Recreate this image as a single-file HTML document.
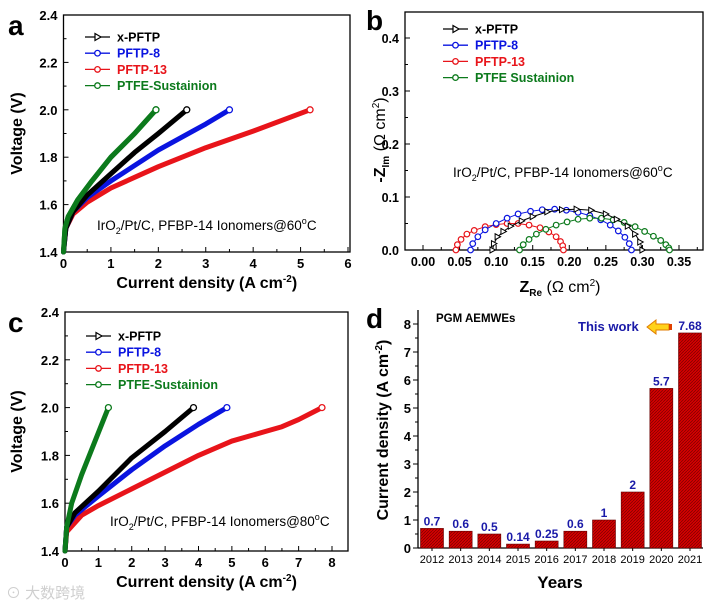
<!DOCTYPE html>
<html><head><meta charset="utf-8">
<style>
html,body{margin:0;padding:0;background:#fff;}
svg{display:block;font-family:"Liberation Sans",Arial,sans-serif;}
</style></head>
<body>
<svg id="fig" width="720" height="608" viewBox="0 0 720 608" xmlns="http://www.w3.org/2000/svg"></svg>
<script>
// ---------- DATA ----------
// Panel a (60C polarization)
const aGreenJ=[0,0.03,0.1,0.3,0.6,1.0,1.5,1.95];
const aGreenV=[1.4,1.5,1.55,1.62,1.7,1.8,1.9,2.0];
const aBlackJ=[0,0.05,0.2,0.5,1.0,1.5,2.0,2.6];
const aBlackV=[1.4,1.5,1.57,1.64,1.73,1.82,1.9,2.0];
const aBlueJ=[0,0.05,0.2,0.5,1,2,3,3.5];
const aBlueV=[1.4,1.5,1.57,1.63,1.7,1.83,1.94,2.0];
const aRedJ=[0,0.05,0.2,0.5,1,2,3,4,5.2];
const aRedV=[1.4,1.5,1.56,1.61,1.67,1.76,1.84,1.91,2.0];
// Panel c (80C polarization)
const cGreenJ=[0,0.05,0.2,0.5,0.9,1.3];
const cGreenV=[1.4,1.5,1.6,1.72,1.86,2.0];
const cBlackJ=[0,0.05,0.3,1,2,3,3.85];
const cBlackV=[1.4,1.5,1.56,1.65,1.79,1.9,2.0];
const cBlueJ=[0,0.05,0.3,1,2,3,4,4.85];
const cBlueV=[1.4,1.5,1.55,1.63,1.74,1.84,1.93,2.0];
const cRedJ=[0,0.05,0.5,1,2,3,4,5,6,6.5,7,7.7];
const cRedV=[1.4,1.48,1.55,1.59,1.66,1.73,1.8,1.86,1.9,1.92,1.95,2.0];
// Panel b (Nyquist)
const bRedRe=[0.045,0.047,0.052,0.06,0.07,0.085,0.1,0.115,0.13,0.145,0.16,0.172,0.182,0.188,0.191,0.192];
const bRedIm=[0,0.01,0.02,0.03,0.037,0.044,0.048,0.05,0.05,0.047,0.042,0.034,0.025,0.016,0.008,0];
const bBlueRe=[0.065,0.068,0.075,0.085,0.1,0.115,0.13,0.147,0.163,0.18,0.196,0.212,0.228,0.243,0.256,0.267,0.276,0.282,0.285];
const bBlueIm=[0,0.012,0.025,0.038,0.05,0.06,0.068,0.073,0.076,0.077,0.075,0.071,0.065,0.057,0.047,0.036,0.024,0.012,0];
const bBlackRe=[0.095,0.097,0.102,0.11,0.12,0.135,0.15,0.17,0.19,0.21,0.23,0.25,0.265,0.28,0.29,0.297,0.3];
const bBlackIm=[0,0.012,0.025,0.035,0.045,0.055,0.063,0.072,0.076,0.077,0.075,0.068,0.058,0.045,0.03,0.015,0];
const bGreenRe=[0.132,0.137,0.145,0.155,0.168,0.182,0.197,0.212,0.228,0.244,0.26,0.275,0.29,0.303,0.315,0.325,0.332,0.336,0.337];
const bGreenIm=[0,0.01,0.02,0.03,0.039,0.047,0.053,0.058,0.06,0.06,0.057,0.052,0.044,0.035,0.026,0.018,0.01,0.004,0];
// Panel d (bars)
const dYears=["2012","2013","2014","2015","2016","2017","2018","2019","2020","2021"];
const dValues=[0.7,0.6,0.5,0.14,0.25,0.6,1,2,5.7,7.68];
const dLabels=["0.7","0.6","0.5","0.14","0.25","0.6","1","2","5.7","7.68"];
// tick labels
const aXTicks=["0","1","2","3","4","5","6"];
const vYTicks=["1.4","1.6","1.8","2.0","2.2","2.4"];
const cXTicks=["0","1","2","3","4","5","6","7","8"];
const bXTicks=["0.00","0.05","0.10","0.15","0.20","0.25","0.30","0.35"];
const bYTicks=["0.0","0.1","0.2","0.3","0.4"];
const dYTicks=["0","1","2","3","4","5","6","7","8"];

const NS="http://www.w3.org/2000/svg";
const svg=document.getElementById('fig');
function mk(tag,attrs,parent){const e=document.createElementNS(NS,tag);for(const k in attrs)e.setAttribute(k,attrs[k]);(parent||svg).appendChild(e);return e;}
function txt(s,x,y,o,parent){const t=mk('text',Object.assign({x:x,y:y,'font-size':13,'font-weight':'bold',fill:'#000'},o||{}),parent);t.textContent=s;return t;}
function lin(d0,d1,r0,r1){return v=>r0+(v-d0)/(d1-d0)*(r1-r0);}

const COL={black:'#000',blue:'#0a14e0',red:'#e8141a',green:'#0c7a1c'};

// ---------- generic polarization panel ----------
function polPanel(g,o){
  const X=lin(0,o.xmax,o.x0,o.x1), Y=lin(1.4,2.4,o.y0,o.y1);
  const fr=mk('rect',{x:o.x0,y:o.y1,width:o.fr-o.x0,height:o.y0-o.y1,fill:'none',stroke:'#000','stroke-width':1.3},g);
  
  // y ticks
  for(let i=0;i<=10;i++){const v=1.4+i*0.1,y=Y(v),L=i%2?3:5;
    mk('line',{x1:o.x0,x2:o.x0+L,y1:y,y2:y,stroke:'#000','stroke-width':1},g);}
  vYTicks.forEach((s,i)=>{const t=txt(s,o.x0-6,Y(+s)+5,{'text-anchor':'end'},g);
    });
  for(let i=0;i<=o.xmax*2;i++){const x=X(i/2),L=i%2?3:5;
    mk('line',{x1:x,x2:x,y1:o.y0,y2:o.y0-L,stroke:'#000','stroke-width':1},g);}
  o.xt.forEach(s=>{const t=txt(s,X(+s),o.y0+16,{'text-anchor':'middle'},g);
    });
  const xt=txt('',(o.x0+o.fr)/2,o.y0+36,{'text-anchor':'middle','font-size':16},g);
  xt.innerHTML='Current density (A cm<tspan dy="-6" font-size="10">-2</tspan><tspan dy="6">)</tspan>';
  
  const yt=txt('Voltage (V)',0,0,{'text-anchor':'middle','font-size':16,transform:`translate(22,${(o.y0+o.y1)/2}) rotate(-90)`},g);
  
  o.series.forEach(s=>{
    const pts=s.j.map((v,i)=>X(v)+','+Y(s.v[i])).join(' ');
    const p=mk('polyline',{points:pts,fill:'none',stroke:COL[s.c],'stroke-width':5,'stroke-linejoin':'round','stroke-linecap':'round'},g);
    
    const m=mk('circle',{cx:X(s.j[s.j.length-1]),cy:Y(2.0),r:3,fill:'#fff',stroke:COL[s.c],'stroke-width':1.3},g);
    
  });
  legend(g,o.lx,o.ly,['x-PFTP','PFTP-8','PFTP-13','PTFE-Sustainion']);
  const an=txt('',o.ax,o.ay,{'font-weight':'normal','font-size':13.5},g);
  an.innerHTML='IrO<tspan dy="4" font-size="9">2</tspan><tspan dy="-4">/Pt/C, PFBP-14 Ionomers@'+o.temp+'</tspan><tspan dy="-6" font-size="9">o</tspan><tspan dy="6">C</tspan>';
  
  const pl=txt(o.letter,8,o.y1+20,{'font-size':28},g);
  
}
function legend(g,lx,ly,names){
  const cs=['black','blue','red','green'];
  names.forEach((n,i)=>{const y=ly+i*16.2;
    const le=mk('g',{},g);
    mk('line',{x1:lx,x2:lx+25,y1:y,y2:y,stroke:COL[cs[i]],'stroke-width':1.3},le);
    if(i==0) mk('path',{d:`M${lx+10},${y-3.5} L${lx+16},${y} L${lx+10},${y+3.5}Z`,fill:'#fff',stroke:'#000','stroke-width':1.2},le);
    else mk('circle',{cx:lx+12.5,cy:y,r:2.8,fill:'#fff',stroke:COL[cs[i]],'stroke-width':1.3},le);
    txt(n,lx+32,y+4.5,{fill:COL[cs[i]],'font-size':12.5},le);
  });
}

const ga=mk('g',{});
polPanel(ga,{x0:63.5,x1:348,fr:350,xmax:6,y0:252,y1:15,xt:aXTicks,lx:85,ly:37,ax:97,ay:230,temp:'60',letter:'a',
 series:[{n:'ptfe',c:'green',j:aGreenJ,v:aGreenV},{n:'red',c:'red',j:aRedJ,v:aRedV},{n:'blue',c:'blue',j:aBlueJ,v:aBlueV},{n:'black',c:'black',j:aBlackJ,v:aBlackV},{n:'green-top',c:'green',j:aGreenJ,v:aGreenV}]});
const gc=mk('g',{});
polPanel(gc,{x0:65,x1:332,fr:348,xmax:8,y0:551,y1:312,xt:cXTicks,lx:86,ly:336,ax:110,ay:526,temp:'80',letter:'c',
 series:[{n:'red',c:'red',j:cRedJ,v:cRedV},{n:'blue',c:'blue',j:cBlueJ,v:cBlueV},{n:'black',c:'black',j:cBlackJ,v:cBlackV},{n:'ptfe',c:'green',j:cGreenJ,v:cGreenV}]});

// ---------- panel b ----------
(function(){
  const g=mk('g',{});
  const X=lin(0,0.35,423,679),Y=lin(0,0.4,250,38);
  const fr=mk('rect',{x:405,y:12,width:298,height:238,fill:'none',stroke:'#000','stroke-width':1.3},g);
  
  for(let i=0;i<=15;i++){const x=X(i*0.025),L=i%2?3:5;mk('line',{x1:x,x2:x,y1:250,y2:250-L,stroke:'#000'},g);}
  for(let i=0;i<=8;i++){const y=Y(i*0.05),L=i%2?3:5;mk('line',{x1:405,x2:405+L,y1:y,y2:y,stroke:'#000'},g);}
  bXTicks.forEach(s=>{const t=txt(s,X(+s),266,{'text-anchor':'middle','font-size':12.5},g);});
  bYTicks.forEach(s=>{const t=txt(s,399,Y(+s)+5,{'text-anchor':'end','font-size':12.5},g);});
  const xt=txt('',560,292,{'text-anchor':'middle','font-size':16},g);
  xt.innerHTML='Z<tspan dy="4" font-size="10">Re</tspan><tspan dy="-4" font-weight="normal"> (Ω cm</tspan><tspan dy="-6" font-size="10" font-weight="normal">2</tspan><tspan dy="6" font-weight="normal">)</tspan>';
  
  const yt=txt('',0,0,{'text-anchor':'middle','font-size':16,transform:'translate(385,140) rotate(-90)'},g);
  yt.innerHTML='-Z<tspan dy="4" font-size="10">Im</tspan><tspan dy="-4" font-weight="normal"> (Ω cm</tspan><tspan dy="-6" font-size="10" font-weight="normal">2</tspan><tspan dy="6" font-weight="normal">)</tspan>';
  
  const ser=[['red',bRedRe,bRedIm],['blue',bBlueRe,bBlueIm],['green',bGreenRe,bGreenIm],['black',bBlackRe,bBlackIm]];
  ser.forEach(s=>{
    const p=mk('polyline',{points:s[1].map((v,i)=>X(v)+','+Y(s[2][i])).join(' '),fill:'none',stroke:COL[s[0]],'stroke-width':1},g);
    
    s[1].forEach((v,i)=>{const x=X(v),y=Y(s[2][i]);let m;
      if(s[0]=='black') m=mk('path',{d:`M${x-2.5},${y-3} L${x+3},${y} L${x-2.5},${y+3}Z`,fill:'#fff',stroke:'#000','stroke-width':1},g);
      else m=mk('circle',{cx:x,cy:y,r:2.8,fill:'#fff',stroke:COL[s[0]],'stroke-width':1.2},g);
      });
  });
  legend(g,443,29,['x-PFTP','PFTP-8','PFTP-13','PTFE Sustainion']);
  const an=txt('',453,177,{'font-weight':'normal','font-size':13.5},g);
  an.innerHTML='IrO<tspan dy="4" font-size="9">2</tspan><tspan dy="-4">/Pt/C, PFBP-14 Ionomers@60</tspan><tspan dy="-6" font-size="9">o</tspan><tspan dy="6">C</tspan>';
  
  const pl=txt('b',366,30,{'font-size':28},g);
})();

// ---------- panel d ----------
(function(){
  const g=mk('g',{});
  const defs=mk('defs',{},g);
  const pat=mk('pattern',{id:'hatch',width:3,height:3,patternUnits:'userSpaceOnUse'},defs);
  mk('rect',{width:3,height:3,fill:'#d40000'},pat);
  mk('path',{d:'M0,3 L3,0',stroke:'#7a0000','stroke-width':0.7},pat);
  const X=lin(0,9,432,690),Y=lin(0,8,548,324);
  mk('line',{x1:418,x2:418,y1:310,y2:548,stroke:'#000','stroke-width':1.3},g);
  mk('line',{x1:418,x2:703,y1:548,y2:548,stroke:'#000','stroke-width':1.3},g);
  for(let i=0;i<=16;i++){const y=Y(i/2),L=i%2?3:5;mk('line',{x1:418,x2:418-L,y1:y,y2:y,stroke:'#000'},g);}
  dYTicks.forEach(s=>{const t=txt(s,411,Y(+s)+5,{'text-anchor':'end','font-size':13},g);});
  dYears.forEach((s,i)=>{const t=txt(s,X(i),563,{'text-anchor':'middle','font-size':11,'font-weight':'normal'},g);
    mk('line',{x1:X(i),x2:X(i),y1:548,y2:551,stroke:'#000'},g);});
  dValues.forEach((v,i)=>{
    const b=mk('rect',{x:X(i)-11.5,y:Y(v),width:23,height:548-Y(v),fill:'url(#hatch)',stroke:'#600','stroke-width':0.6},g);
    
    const t=txt(dLabels[i],X(i),Y(v)-3,{'text-anchor':'middle','font-size':12,fill:'#1a1aa8'},g);
    
  });
  const xt=txt('Years',560,588,{'text-anchor':'middle','font-size':17},g);
  const yt=txt('',0,0,{'text-anchor':'middle','font-size':16,transform:'translate(388,430) rotate(-90)'},g);
  yt.innerHTML='Current density (A cm<tspan dy="-6" font-size="10">-2</tspan><tspan dy="6">)</tspan>';
  
  const tt=txt('PGM AEMWEs',436,322,{'font-size':11.5},g);
  const tw=txt('This work',578,331,{'font-size':13,fill:'#1a1aa8'},g);
  const ar=mk('path',{d:'M647,327 L656,320 L656,324 L669,324 L669,330 L656,330 L656,334 Z',fill:'#ffd21a',stroke:'#e07b00','stroke-width':1},g);
  
  mk('rect',{x:669,y:324,width:3,height:6,fill:'#e04000'},g);
  const pl=txt('d',366,328,{'font-size':28},g);
})();
const wm=txt('⊙ 大数跨境',6,598,{'font-size':15,'font-weight':'normal',fill:'#cfcfcf','font-family':'"Liberation Sans","Noto Sans CJK SC",sans-serif'});


</script>
</body></html>
